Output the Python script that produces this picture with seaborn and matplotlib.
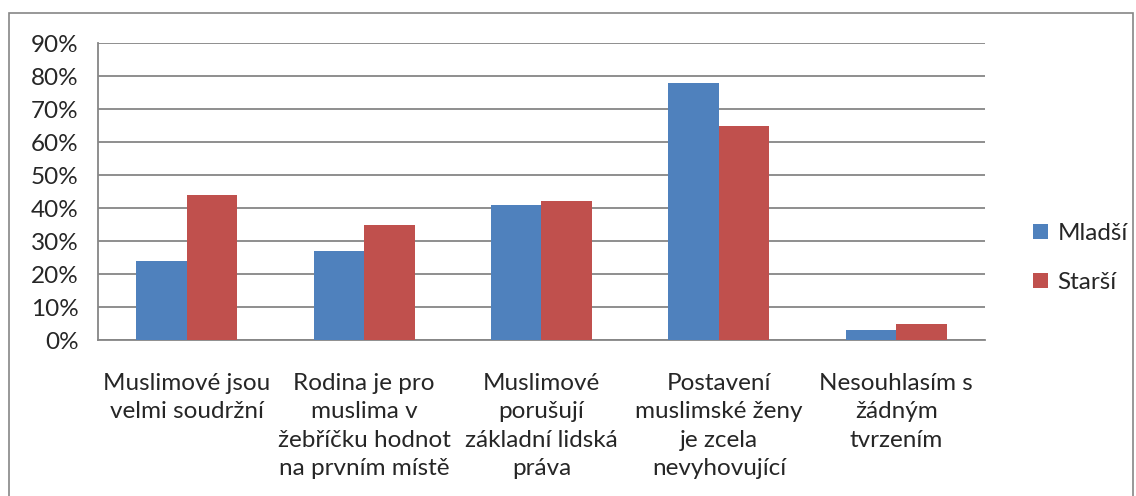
import numpy as np
import pandas as pd
import matplotlib.pyplot as plt
import seaborn as sns
from matplotlib.patches import Rectangle
from matplotlib.ticker import PercentFormatter, FixedLocator

# data
kategorie = ['Muslimové jsou\nvelmi soudržní',
             'Rodina je pro\nmuslima v\nžebříčku hodnot\nna prvním místě',
             'Muslimové\nporušují\nzákladní lidská\npráva',
             'Postavení\nmuslimské ženy\nje zcela\nnevyhovující',
             'Nesouhlasím s\nžádným\ntvrzením']
mladsi = [24, 27, 41, 78, 3]
starsi = [44, 35, 42, 65, 5]
skupiny = ['Mladší', 'Starší']

df = pd.DataFrame({
    'kategorie': kategorie * 2,
    'skupina': [skupiny[0]] * 5 + [skupiny[1]] * 5,
    'hodnota': mladsi + starsi,
})

sns.set_style('white')
plt.rcParams['font.family'] = ['Lato', 'DejaVu Sans']

fig = plt.figure(figsize=(11.36, 4.96), dpi=100)
ax = fig.add_axes([0.0863, 0.3145, 0.7807, 0.5985])

sns.barplot(data=df, x='kategorie', y='hodnota', hue='skupina',
            palette=['#4F81BD', '#C0504D'], width=0.57, saturation=1,
            gap=0, linewidth=0, ax=ax, zorder=3)

ax.set_ylim(0, 90)
ax.set_xlim(-0.5, 4.5)
ax.set_yticks(np.arange(0, 91, 10))
ax.yaxis.set_major_formatter(PercentFormatter(decimals=0))
ax.yaxis.grid(True, color='#868686', linewidth=1.3, zorder=0)
ax.set_axisbelow(True)
ax.set_xlabel('')
ax.set_ylabel('')

ax.tick_params(axis='y', labelsize=17.5, length=8, width=1.3, color='#868686', pad=6)
ax.tick_params(axis='x', which='major', labelsize=17.5, length=0, pad=24)
ax.xaxis.set_minor_locator(FixedLocator(np.arange(-0.5, 5, 1)))
ax.tick_params(axis='x', which='minor', length=8, width=1.3, color='#868686', direction='out')
for lbl in ax.get_xticklabels():
    lbl.set_linespacing(1.42)

sns.despine(ax=ax, top=True, right=True)
for s in ['left', 'bottom']:
    ax.spines[s].set_color('#868686')
    ax.spines[s].set_linewidth(1.3)

ax.legend(loc='center left', bbox_to_anchor=(1.03, 0.276), frameon=False,
          fontsize=17.5, handlelength=0.6, handleheight=0.6, labelspacing=1.15,
          handletextpad=0.4)

fig.patches.append(Rectangle((9 / 1136, -0.01), 1124 / 1136, 1 - 13 / 496 + 0.01,
                             transform=fig.transFigure, fill=False,
                             edgecolor='#868686', linewidth=1.2))

plt.savefig('out.png', dpi=100)
